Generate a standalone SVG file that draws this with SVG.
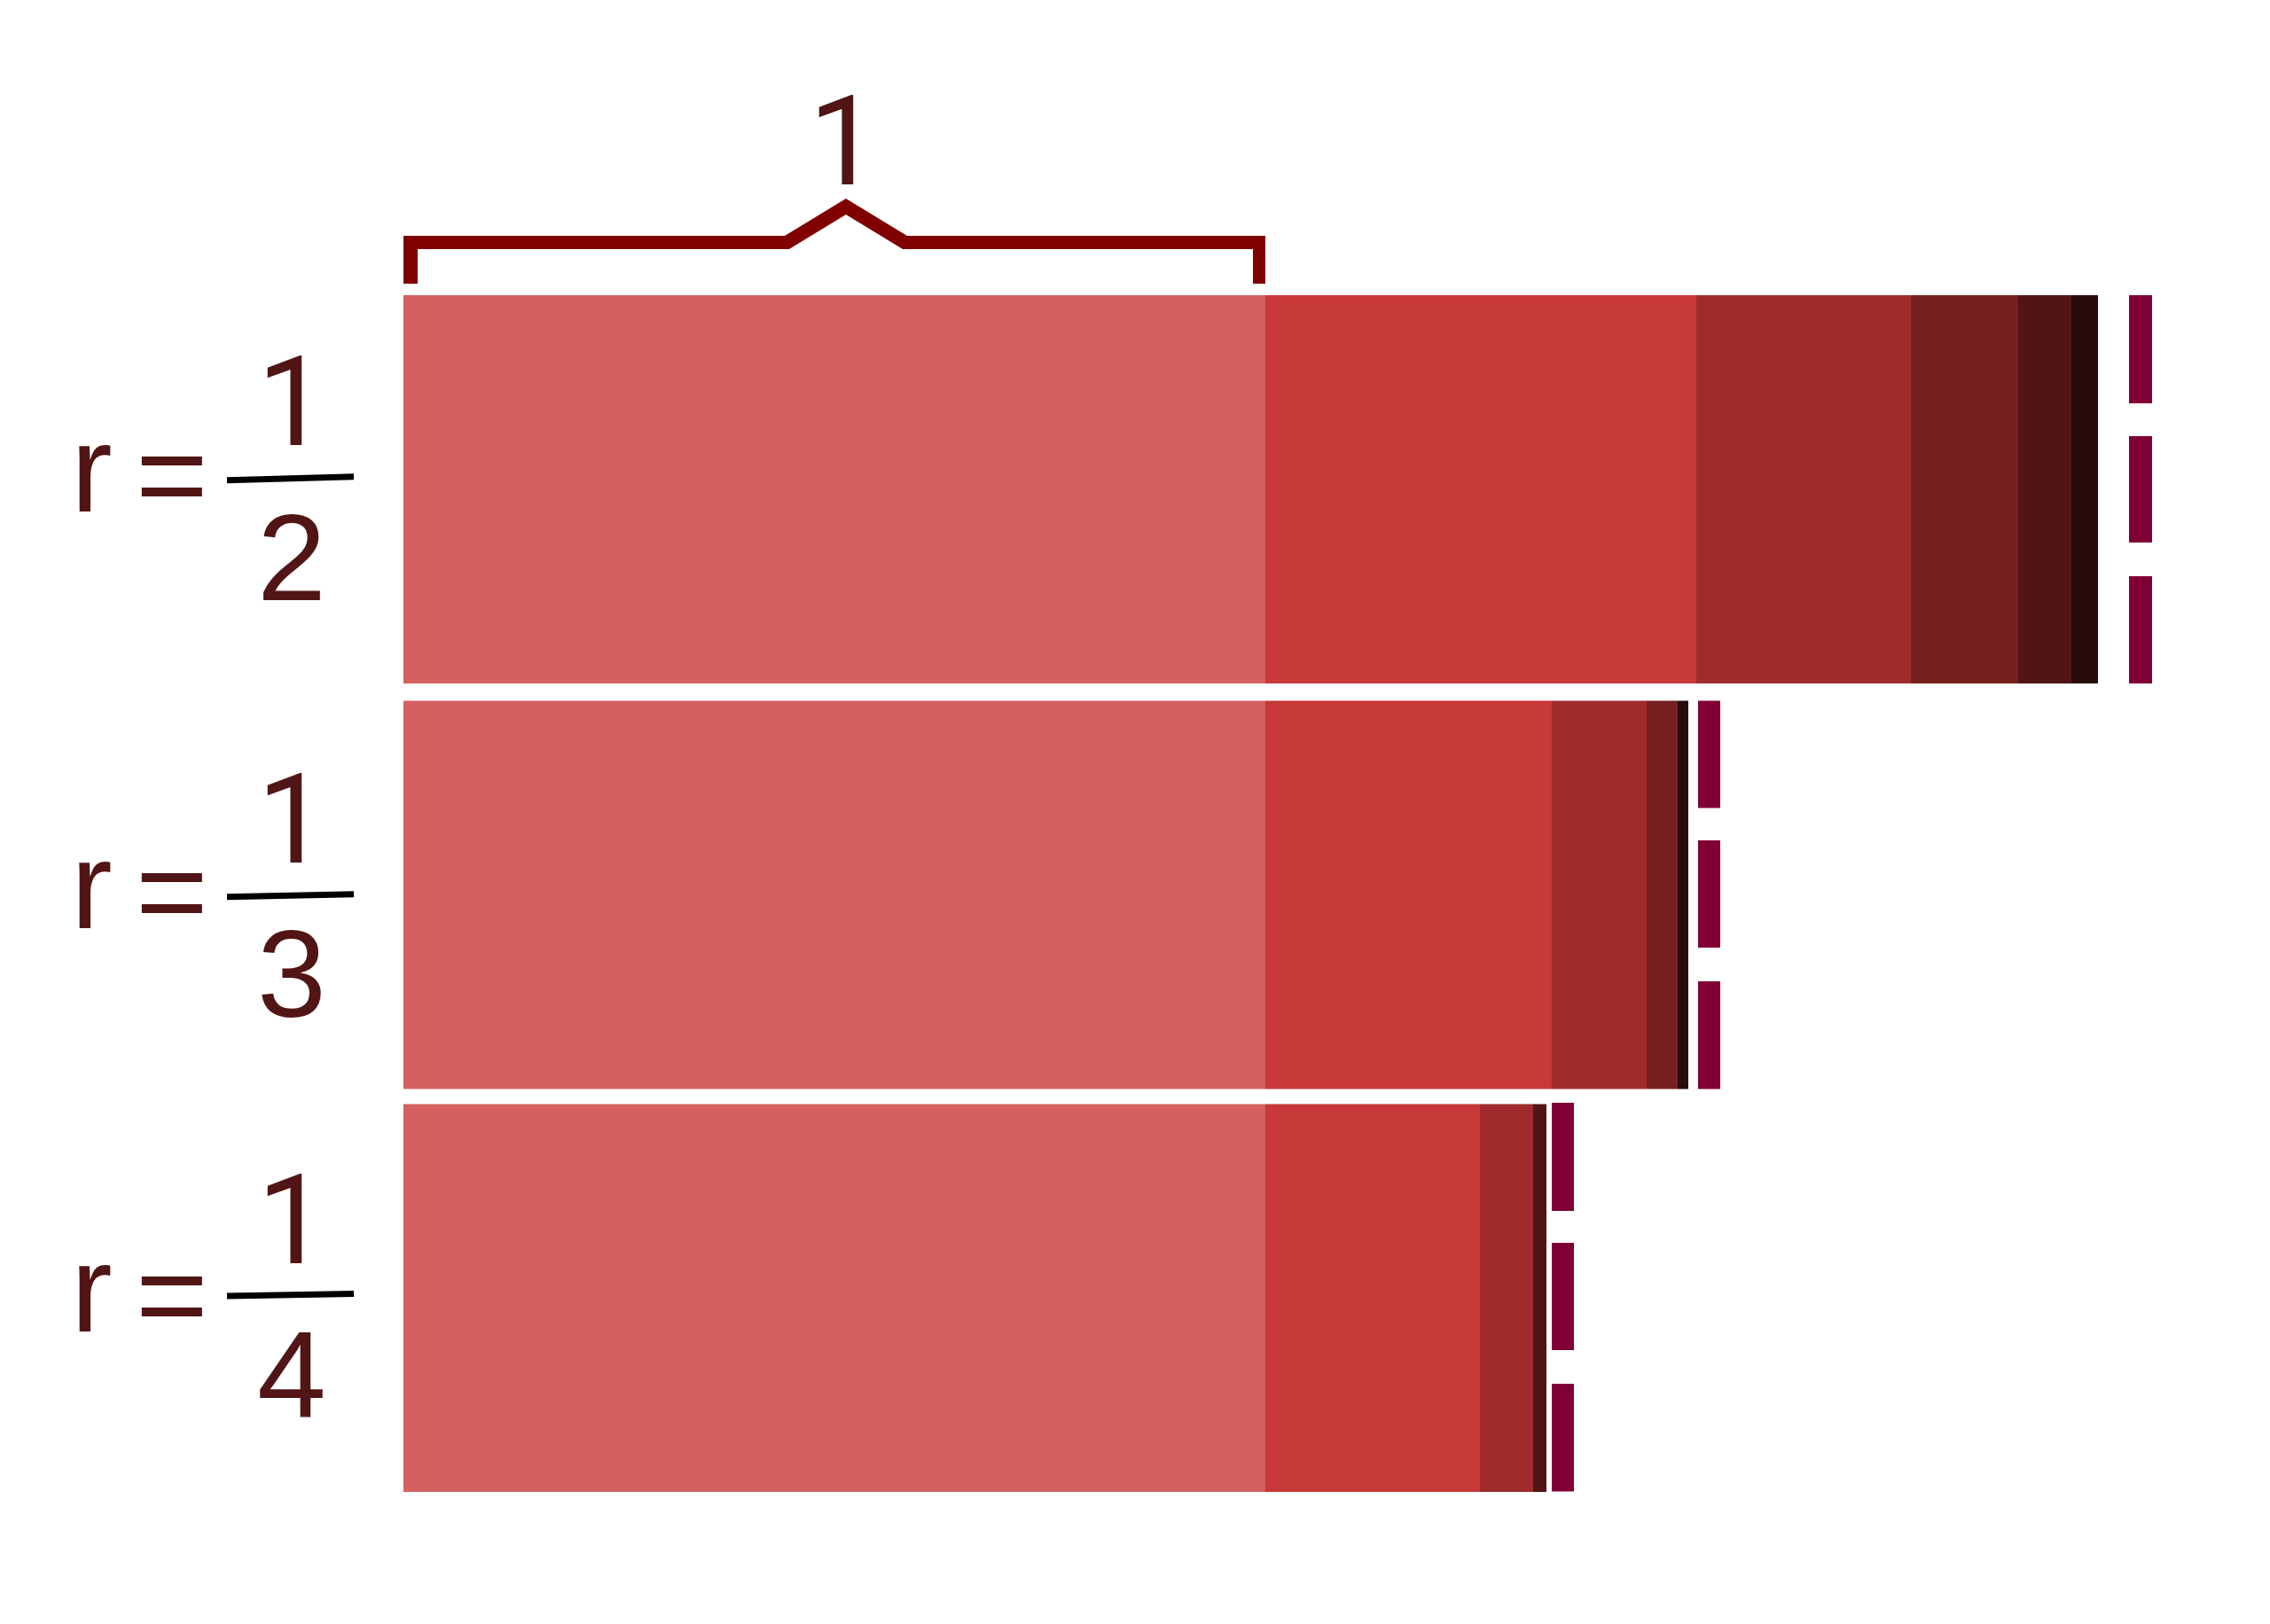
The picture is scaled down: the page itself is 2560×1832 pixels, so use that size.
<svg xmlns="http://www.w3.org/2000/svg" width="2560" height="1832" viewBox="0 0 2560 1832">
<style>
.lbl{font-family:"Liberation Sans",Arial,sans-serif;font-size:140px;fill:#511515}
.one{font-family:Roboto,"Noto Sans",sans-serif;font-size:141px;fill:#511515}
.c1{fill:#d56060}.c2{fill:#c73838}.c3{fill:#a02b2c}.c4{fill:#772020}.c5{fill:#511515}.c6{fill:#280b0b}
.dash{fill:#800035}
.frac{stroke:#000;stroke-width:7;fill:none}
</style>
<rect width="2560" height="1832" fill="#fff"/>
<g id="brace">
<polygon fill="#800000" points="455,320 455,266 885,266 954,224 1023,266 1427,266 1427,320 1413,320 1413,281 1018,281 954,242 890,281 471,281 471,320"/>
<text class="one" x="912" y="208">1</text>
</g>
<g id="bar-half">
<rect class="c1" x="455" y="333" width="972" height="438"/>
<rect class="c2" x="1427" y="333" width="486" height="438"/>
<rect class="c3" x="1913" y="333" width="242" height="438"/>
<rect class="c4" x="2155" y="333" width="121" height="438"/>
<rect class="c5" x="2276" y="333" width="60" height="438"/>
<rect class="c6" x="2336" y="333" width="30" height="438"/>
<rect class="dash" x="2401" y="333" width="26" height="122"/>
<rect class="dash" x="2401" y="492" width="26" height="120"/>
<rect class="dash" x="2401" y="650" width="26" height="121"/>
</g>
<g id="bar-third">
<rect class="c1" x="455" y="790.5" width="972" height="438"/>
<rect class="c2" x="1427" y="790.5" width="323" height="438"/>
<rect class="c3" x="1750" y="790.5" width="107" height="438"/>
<rect class="c4" x="1857" y="790.5" width="35" height="438"/>
<rect class="c6" x="1892" y="790.5" width="12" height="438"/>
<rect class="dash" x="1915" y="790.5" width="25" height="121"/>
<rect class="dash" x="1915" y="948" width="25" height="121"/>
<rect class="dash" x="1915" y="1107" width="25" height="121.5"/>
</g>
<g id="bar-quarter">
<rect class="c1" x="455" y="1245.5" width="972" height="437.5"/>
<rect class="c2" x="1427" y="1245.5" width="242" height="437.5"/>
<rect class="c3" x="1669" y="1245.5" width="60" height="437.5"/>
<rect class="c5" x="1729" y="1245.5" width="15" height="437.5"/>
<rect class="dash" x="1750" y="1244" width="25" height="122"/>
<rect class="dash" x="1750" y="1402" width="25" height="121"/>
<rect class="dash" x="1750" y="1561" width="25" height="121.5"/>
</g>
<g id="label-half">
<text class="lbl" x="80" y="576.7">r</text>
<text class="lbl" x="153" y="583">=</text>
<line class="frac" x1="256" y1="541.7" x2="399" y2="537.7"/>
<text class="one" x="290" y="502">1</text>
<text class="lbl" x="290" y="677">2</text>
</g>
<g id="label-third">
<text class="lbl" x="80" y="1047">r</text>
<text class="lbl" x="153" y="1053">=</text>
<line class="frac" x1="256" y1="1011.7" x2="399" y2="1008.7"/>
<text class="one" x="290" y="973">1</text>
<text class="lbl" x="290" y="1147">3</text>
</g>
<g id="label-quarter">
<text class="lbl" x="80" y="1501.7">r</text>
<text class="lbl" x="153" y="1508">=</text>
<line class="frac" x1="256" y1="1462" x2="399" y2="1459.5"/>
<text class="one" x="290" y="1425">1</text>
<text class="lbl" x="290" y="1599">4</text>
</g>
</svg>
